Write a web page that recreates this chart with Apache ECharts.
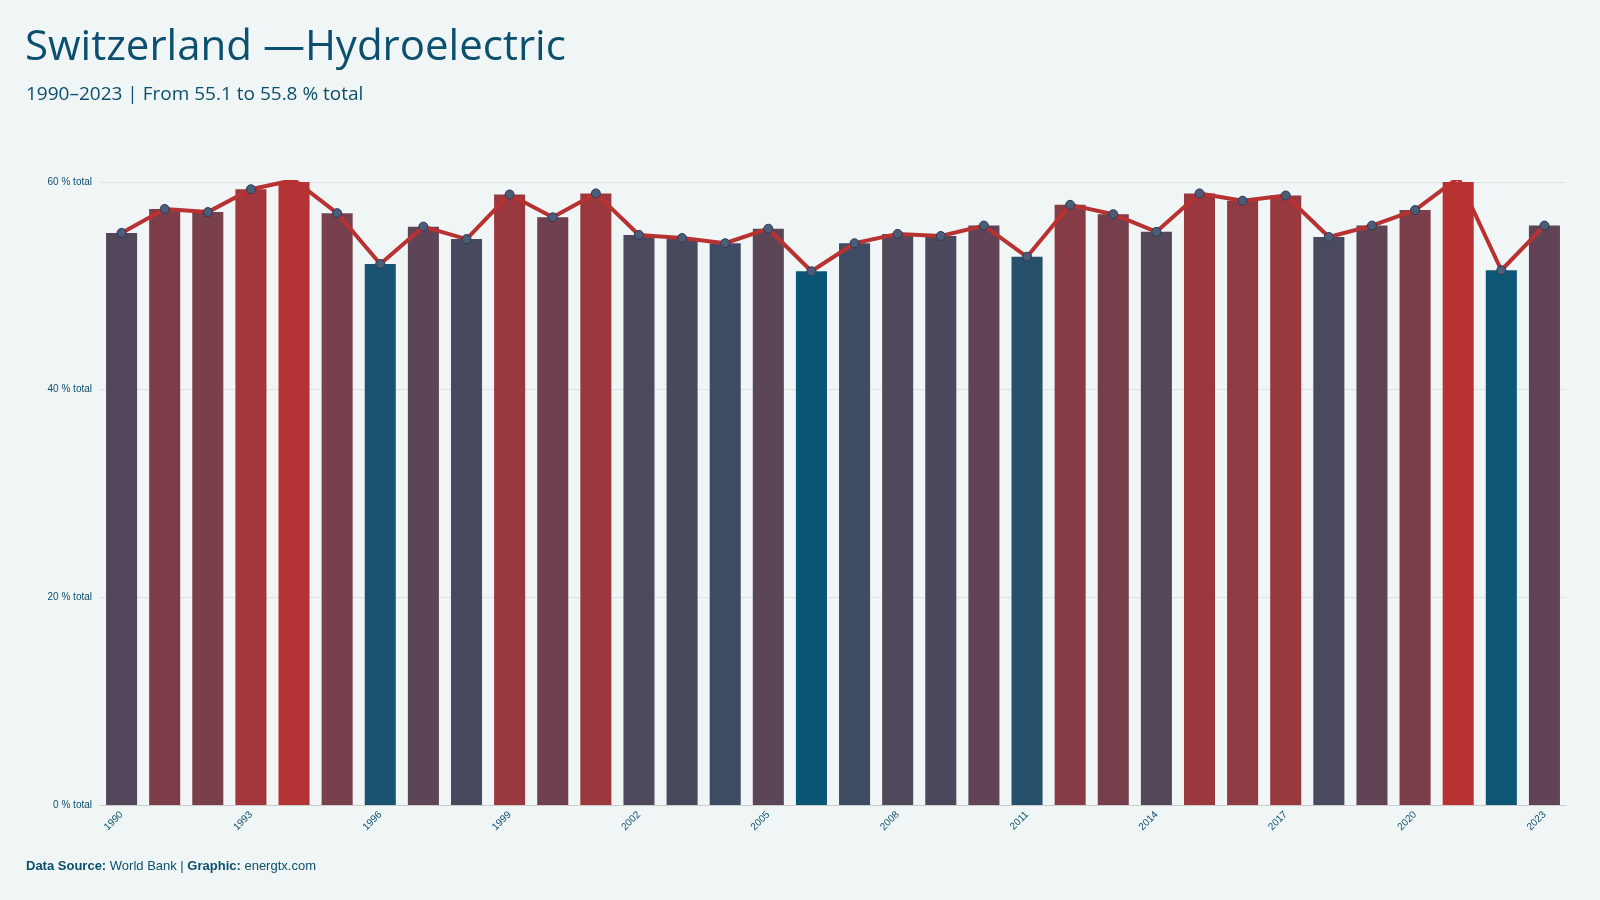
<!DOCTYPE html>
<html><head><meta charset="utf-8">
<script src="https://cdn.jsdelivr.net/npm/echarts@6/dist/echarts.min.js"></script>
<style>html,body{margin:0;background:#f0f5f5}#c{width:1600px;height:900px}</style>
</head><body><div id="c"></div>
<script>
const years=['1990','1991','1992','1993','1994','1995','1996','1997','1998','1999','2000','2001','2002','2003','2004','2005','2006','2007','2008','2009','2010','2011','2012','2013','2014','2015','2016','2017','2018','2019','2020','2021','2022','2023'];
const values=[55.1,57.4,57.1,59.3,60.2,57.0,52.1,55.7,54.5,58.8,56.6,58.9,54.9,54.6,54.1,55.5,51.4,54.1,55.0,54.8,55.8,52.8,57.8,56.9,55.2,58.9,58.2,58.7,54.7,55.8,57.3,60.4,51.5,55.8];
const yTicks=[0,20,40,60];
const ch=echarts.init(document.getElementById('c'));
const F='Ubuntu Condensed, "Open Sans", sans-serif';
ch.setOption({
 backgroundColor:'#f0f5f5',
 title:[{text:'Switzerland —Hydroelectric',left:20,top:22,textStyle:{fontFamily:F,fontSize:42,fontWeight:'normal',color:'#0d4f6e'}},
  {text:'1990–2023 | From 55.1 to 55.8 % total',left:21,top:80,textStyle:{fontFamily:F,fontSize:19,fontWeight:'normal',color:'#0d4f6e'}},
  {text:'{b|Data Source:} World Bank | {b|Graphic:} energtx.com',left:21,bottom:22,textStyle:{fontSize:13,color:'#0d4f6e',fontWeight:'normal',rich:{b:{fontWeight:'bold',color:'#0d4f6e',fontSize:13}}}}],
 grid:{left:100,right:34,top:182,bottom:95},
 visualMap:{show:false,seriesIndex:0,min:Math.min(...values),max:Math.max(...values),inRange:{color:['#0b5676','#b83232']}},
 xAxis:{type:'category',data:years,axisTick:{show:false},axisLine:{lineStyle:{color:'#ccc'}},
  axisLabel:{interval:2,rotate:45,fontSize:10,color:'#0d4f6e'}},
 yAxis:{type:'value',min:0,max:60,interval:20,axisLabel:{formatter:v=>yTicks.includes(v)?v+' % total':'',fontSize:10,color:'#0d4f6e'},
  splitLine:{lineStyle:{color:'#dde3e3'}}},
 series:[{type:'bar',data:values,barWidth:'72%'},
  {type:'line',data:values,lineStyle:{color:'#b83232',width:4},symbol:'circle',symbolSize:9,
   itemStyle:{color:'#4d5d78',borderColor:'#2a3a55',borderWidth:1},z:5}]
});
</script></body></html>
